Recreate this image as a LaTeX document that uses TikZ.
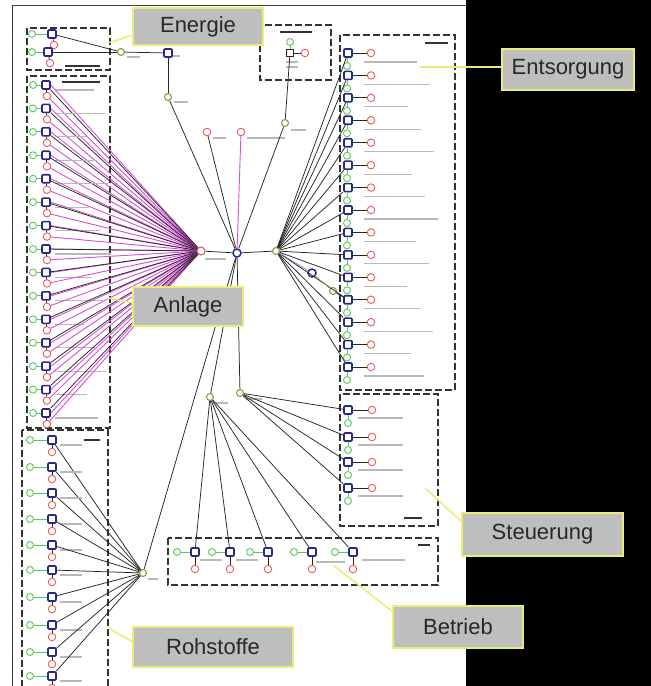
\documentclass[tikz,border=0pt]{standalone}
\usepackage{fontspec}
\setmainfont{Liberation Sans}
\definecolor{bluec}{RGB}{40,40,140}
\definecolor{greenc}{RGB}{90,200,90}
\definecolor{redc}{RGB}{235,90,90}
\definecolor{olivec}{RGB}{150,150,70}
\definecolor{pinkc}{RGB}{215,80,215}
\definecolor{boxgray}{RGB}{190,190,190}
\definecolor{yelc}{RGB}{235,235,120}
\definecolor{textc}{RGB}{40,40,40}
\tikzset{
 blu/.style={rectangle, draw=bluec, line width=1.6pt, fill=white, minimum size=8pt, inner sep=0pt, rounded corners=1pt},
 gsq/.style={rectangle, draw=gray!30!black, line width=1.2pt, fill=white, minimum size=7pt, inner sep=0pt},
 grn/.style={circle, draw=greenc, line width=0.9pt, minimum size=7pt, inner sep=0pt, fill=white},
 rd/.style={circle, draw=redc, line width=0.9pt, minimum size=7.5pt, inner sep=0pt, fill=white},
 olv/.style={circle, draw=olivec, line width=1.1pt, minimum size=7pt, inner sep=0pt, fill=white},
 hubb/.style={circle, draw=bluec, line width=1.5pt, minimum size=8pt, inner sep=0pt, fill=white},
 hubp/.style={circle, draw=redc!70!olivec, line width=1.1pt, minimum size=8pt, inner sep=0pt, fill=white},
 grp/.style={draw=gray!40!black, line width=1.2pt, dash pattern=on 7pt off 3pt},
 lnk/.style={draw=gray!30!black, line width=0.75pt},
 plnk/.style={draw=pinkc, line width=0.9pt},
 glnk/.style={draw=greenc, line width=0.9pt},
 txt/.style={draw=gray!55, line width=1.2pt},
 ttl/.style={draw=gray!40!black, line width=1.6pt},
 callout/.style={rectangle, fill=boxgray, draw=yelc, line width=2.5pt, font=\fontsize{22}{24}\selectfont, text=textc, inner sep=0pt},
 lead/.style={draw=yelc, line width=1.5pt},
}
\begin{document}
\begin{tikzpicture}[x=1pt,y=-1pt]
\useasboundingbox (0,0) rectangle (651,686);
\fill[white] (0,0) rectangle (466,686);
\fill[black] (466,0) rectangle (651,686);
\draw[gray!50!black, line width=0.8pt] (12,686) -- (12,5) -- (466,5);

% group boxes
\draw[grp] (27,28) rectangle (110,70);
\draw[grp] (27,76) rectangle (110,428);
\draw[grp] (22,430) rectangle (108,690);
\draw[grp] (260,25) rectangle (331,80);
\draw[grp] (340,35) rectangle (455,390);
\draw[grp] (340,394) rectangle (438,526);
\draw[grp] (168,538) rectangle (438,585);
% group titles
\draw[ttl] (65,66) -- (100,66);
\draw[ttl] (62,82) -- (100,82);
\draw[ttl] (84,440) -- (100,440);
\draw[ttl] (280,32) -- (312,32);
\draw[ttl] (425,43) -- (448,43);
\draw[ttl] (404,518) -- (422,518);
\draw[ttl] (418,545) -- (430,545);

% hubs
\node[olv] (e0) at (121,52) {};
\node[blu] (e1) at (168,53) {};
\node[olv] (e2) at (168,97) {};
\node[hubb] (c) at (237,253) {};
\node[hubp] (ah) at (201,251) {};
\node[olv] (sh) at (276,251) {};
\node[rd] (r1) at (207,132) {};
\node[rd] (r2) at (241,132) {};
\node[olv] (t) at (285,123) {};
\node[olv] (bh) at (210,397) {};
\node[olv] (sth) at (240,393) {};
\node[olv] (rh) at (143,573) {};
\node[hubb] (x) at (312,273) {};
\node[olv] (yy) at (333,291) {};
% hub captions
\draw[txt] (173,56) -- (180,56);
\draw[txt] (127,57) -- (140,57);
\draw[txt] (174,102) -- (188,102);
\draw[txt] (213,138) -- (226,138);
\draw[txt] (247,138) -- (285,138);
\draw[txt] (291,130) -- (306,130);
\draw[txt] (205,259) -- (226,259);
\draw[txt] (216,403) -- (228,403);
\draw[txt] (246,399) -- (262,399);
\draw[txt] (148,579) -- (158,579);

% top-middle item
\node[gsq] (tm) at (290,53) {};
\node[grn] (tmg) at (290,42) {};
\node[rd] (tmr) at (305,53) {};
\draw[glnk] (tmg) -- (tm);
\draw[lnk] (tm) -- (tmr);
\draw[txt] (286,62) -- (298,62);
\draw[txt] (286,67) -- (298,67);

% Energie items
\foreach \i/\y/\xb in {1/34/52,2/52/48} {
  \node[grn] (eg\i) at (32,\y) {};
  \node[blu] (en\i) at (\xb,\y) {};
  \node[rd] (er\i) at (\xb+2,\y+11) {};
  \draw[glnk] (eg\i) -- (en\i);
  \draw[lnk] (en\i) -- (er\i);
  \draw[lnk] (en\i) -- (e0);
}
\draw[lnk] (e0) -- (e1);
\draw[lnk] (e1) -- (e2);
\draw[lnk] (e2) -- (c);

% Anlage items
\foreach \i in {1,...,15} {
  \pgfmathsetmacro\y{85+(\i-1)*23.43}
  \pgfmathsetmacro\l{28+mod(\i*11,30)}
  \node[grn] (ag\i) at (33,\y) {};
  \node[blu] (an\i) at (46,\y) {};
  \node[rd] (ar\i) at (47,\y+11) {};
  \draw[glnk] (ag\i) -- (an\i);
  \draw[lnk] (an\i) -- (ar\i);
  \draw[txt] (55,\y+5) -- ++(\l,0);
  \draw[plnk] (ar\i) -- (ah);
  \draw[plnk] (an\i.east) -- (ah);
  \draw[lnk] (an\i) -- (ah);
}

% Rohstoffe items
\foreach \i/\y in {1/440,2/467,3/493,4/519,5/545,6/570,7/597,8/625,9/652,10/676} {
  \node[grn] (rg\i) at (30,\y) {};
  \node[blu] (rn\i) at (52,\y) {};
  \node[rd] (rr\i) at (52,\y+12) {};
  \draw[glnk] (rg\i) -- (rn\i);
  \draw[lnk] (rn\i) -- (rr\i);
  \draw[txt] (60,\y+5) -- ++(22,0);
  \draw[lnk] (rn\i) -- (rh);
}

% Entsorgung items
\foreach \i in {1,...,15} {
  \pgfmathsetmacro\y{53+(\i-1)*22.43}
  \pgfmathsetmacro\l{40+mod(\i*13,35)}
  \node[blu] (sn\i) at (348,\y) {};
  \node[rd] (sr\i) at (371,\y) {};
  \node[grn] (sg\i) at (347,\y+13) {};
  \draw[lnk] (sn\i) -- (sr\i);
  \draw[glnk] (sn\i) -- (sg\i);
  \draw[txt] (364,\y+9) -- ++(\l,0);
  \draw[lnk] (sh) -- (sn\i);
}

% Steuerung items
\foreach \i/\y in {1/410,2/437,3/462,4/488} {
  \node[blu] (tn\i) at (348,\y) {};
  \node[rd] (tr\i) at (372,\y) {};
  \node[grn] (tg\i) at (348,\y+13) {};
  \draw[lnk] (tn\i) -- (tr\i);
  \draw[glnk] (tn\i) -- (tg\i);
  \draw[txt] (358,\y+8) -- ++(45,0);
  \draw[lnk] (sth) -- (tn\i);
}

% Betrieb items
\foreach \i/\x in {1/195,2/230,3/268,4/312,5/353} {
  \node[blu] (bn\i) at (\x,552) {};
  \node[grn] (bg\i) at (\x-18,552) {};
  \node[rd] (br\i) at (\x,569) {};
  \draw[glnk] (bg\i) -- (bn\i);
  \draw[lnk] (bn\i) -- (br\i);
  \draw[lnk] (bh) -- (bn\i);
}
\draw[txt] (200,560) -- (222,560);
\draw[txt] (236,560) -- (258,560);
\draw[txt] (316,562) -- (345,562);
\draw[txt] (362,560) -- (405,560);

% central links
\draw[lnk] (c) -- (ah);
\draw[lnk] (c) -- (sh);
\draw[lnk] (c) -- (r1);
\draw[plnk] (c) -- (r2);
\draw[lnk] (c) -- (t);
\draw[lnk] (t) -- (tm);
\draw[lnk] (c) -- (bh);
\draw[lnk] (c) -- (sth);
\draw[lnk] (c) -- (rh);
\draw[draw=bluec!60, line width=0.7pt] (sh) -- (x);
\draw[draw=olivec, line width=0.7pt] (x) -- (yy);
\draw[lnk] (yy) -- (sn12);

% callouts
\draw[lead] (133,35) -- (108,43);
\draw[lead] (502,67) -- (420,67);
\draw[lead] (133,303) -- (108,298);
\draw[lead] (462,522) -- (425,488);
\draw[lead] (393,612) -- (333,565);
\draw[lead] (133,642) -- (108,628);
\node[callout, minimum width=130pt, minimum height=37pt] (lE) at (198,26.5) {Energie};
\node[callout, minimum width=132pt, minimum height=41pt] (lS) at (568,69.5) {Entsorgung};
\node[callout, minimum width=110pt, minimum height=39pt] (lA) at (188,306.5) {Anlage};
\node[callout, minimum width=161pt, minimum height=43pt] (lT) at (542.5,534.5) {Steuerung};
\node[callout, minimum width=130pt, minimum height=42pt] (lB) at (458,627) {Betrieb};
\node[callout, minimum width=160pt, minimum height=40pt] (lR) at (213,647) {Rohstoffe};
\end{tikzpicture}
\end{document}
